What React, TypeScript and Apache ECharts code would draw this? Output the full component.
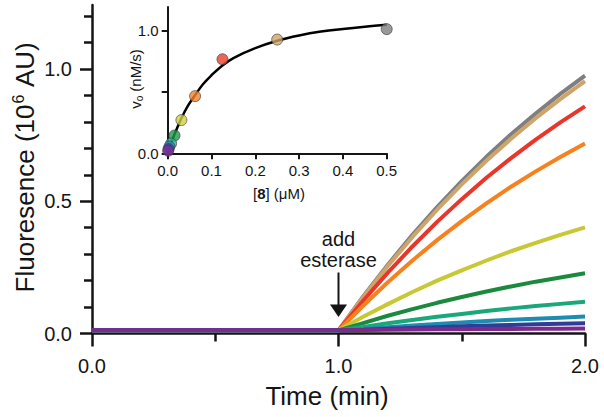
import React, { useEffect, useRef } from "react";
import * as echarts from "echarts";

// Main panel: fluorescence traces (10^6 AU) vs time (min)
const timePoints = [0, 1.0, 1.1, 1.2, 1.3, 1.4, 1.5, 1.6, 1.7, 1.8, 1.9, 2.0];
const grayTrace = [0.012, 0.012, 0.14, 0.26, 0.373, 0.478, 0.576, 0.668, 0.753, 0.832, 0.906, 0.975];
const tanTrace = [0.012, 0.012, 0.137, 0.255, 0.365, 0.468, 0.564, 0.653, 0.736, 0.814, 0.886, 0.954];
const redTrace = [0.012, 0.012, 0.124, 0.23, 0.329, 0.422, 0.508, 0.589, 0.663, 0.733, 0.798, 0.859];
const orangeTrace = [0.012, 0.012, 0.105, 0.194, 0.276, 0.353, 0.425, 0.492, 0.555, 0.613, 0.667, 0.718];
const yellowTrace = [0.012, 0.012, 0.063, 0.111, 0.157, 0.2, 0.239, 0.276, 0.311, 0.343, 0.373, 0.401];
const greenTrace = [0.012, 0.012, 0.039, 0.067, 0.092, 0.116, 0.138, 0.159, 0.178, 0.196, 0.212, 0.228];
const tealTrace = [0.012, 0.012, 0.025, 0.039, 0.051, 0.063, 0.074, 0.085, 0.095, 0.104, 0.112, 0.12];
const blueTrace = [0.012, 0.012, 0.017, 0.024, 0.03, 0.036, 0.042, 0.047, 0.052, 0.056, 0.06, 0.064];
const indigoTrace = [0.012, 0.012, 0.014, 0.018, 0.021, 0.024, 0.027, 0.03, 0.032, 0.035, 0.037, 0.039];
const purpleTrace = [0.012, 0.012, 0.013, 0.014, 0.015, 0.016, 0.016, 0.017, 0.017, 0.018, 0.018, 0.019];

const traceColors = ["#7f7f7f", "#cda56a", "#e8362b", "#f5821f", "#c8c836", "#1b8a3e", "#1aa87a", "#1e8cb0", "#2f3d96", "#7e2a8c"];
const traces = [grayTrace, tanTrace, redTrace, orangeTrace, yellowTrace, greenTrace, tealTrace, blueTrace, indigoTrace, purpleTrace];

const mainXMajor = [0, 1, 2];
const mainXMinor = [0.5, 1.5];
const mainYMajor = [0, 0.5, 1.0];
const mainYMinor = [0.1, 0.2, 0.3, 0.4, 0.6, 0.7, 0.8, 0.9, 1.1, 1.2];

// Inset: initial rate vs [8]
const concentrations = [0.5, 0.25, 0.125, 0.0625, 0.0313, 0.0156, 0.0078, 0.0039, 0.002, 0.001];
const rates = [1.01, 0.925, 0.765, 0.465, 0.27, 0.145, 0.08, 0.055, 0.035, 0.02];
const pointColors = ["#808080", "#d0a468", "#e8402a", "#f5822a", "#cfd042", "#1e9a4a", "#22b090", "#2a8ab8", "#3b3fa0", "#7c2e96"];
const fitS = [0, 0.004, 0.008, 0.015, 0.03, 0.045, 0.063, 0.08, 0.1, 0.125, 0.15, 0.2, 0.25, 0.3, 0.35, 0.4, 0.45, 0.5];
const fitV = [0, 0.04, 0.085, 0.15, 0.275, 0.38, 0.475, 0.56, 0.635, 0.715, 0.775, 0.855, 0.915, 0.958, 0.99, 1.012, 1.03, 1.045];
const insetXTicks = [0, 0.1, 0.2, 0.3, 0.4, 0.5];
const insetYTicks = [0, 0.5, 1.0];
const insetYLabels = [0, 1.0];

const FONT = "Liberation Sans, Arial, Helvetica, sans-serif";
const INK = "#151515";

export default function App() {
  const ref = useRef<HTMLDivElement>(null);
  useEffect(() => {
    if (!ref.current) return;
    const chart = echarts.init(ref.current, undefined, { renderer: "svg" });
    const axisLine = { show: true, lineStyle: { color: INK, width: 2.5 } };
    const insetAxisLine = { show: true, lineStyle: { color: INK, width: 2 } };
    const fmt1 = (v: number) => v.toFixed(1);

    const option: any = {
      animation: false,
      textStyle: { fontFamily: FONT },
      grid: [
        { left: 92, right: 19, top: 5, bottom: 83.5 },
        { left: 167.7, width: 219, top: 7, height: 146.3 },
      ],
      xAxis: [
        {
          gridIndex: 0, type: "value", min: 0, max: 2, position: "bottom",
          axisLine,
          axisTick: { show: true, customValues: mainXMajor, length: 13, lineStyle: { color: INK, width: 2.5 } },
          axisLabel: { show: true, customValues: mainXMajor, formatter: fmt1, fontSize: 20, color: INK, margin: 22, fontFamily: FONT },
          splitLine: { show: false },
        },
        {
          gridIndex: 0, type: "value", min: 0, max: 2, position: "bottom",
          axisLine: { show: false },
          axisTick: { show: true, customValues: mainXMinor, length: 8, lineStyle: { color: INK, width: 2.5 } },
          axisLabel: { show: false },
          splitLine: { show: false },
        },
        {
          gridIndex: 1, type: "value", min: 0, max: 0.5, position: "bottom",
          axisLine: insetAxisLine,
          axisTick: { show: true, customValues: insetXTicks, length: 6, lineStyle: { color: INK, width: 2 } },
          axisLabel: { show: true, customValues: insetXTicks, formatter: fmt1, fontSize: 15, color: INK, margin: 10, fontFamily: FONT },
          splitLine: { show: false },
        },
      ],
      yAxis: [
        {
          gridIndex: 0, type: "value", min: 0, max: 1.242, position: "left",
          axisLine,
          axisTick: { show: true, customValues: mainYMajor, length: 12, lineStyle: { color: INK, width: 2.5 } },
          axisLabel: { show: true, customValues: mainYMajor, formatter: fmt1, fontSize: 20, color: INK, margin: 20, fontFamily: FONT },
          splitLine: { show: false },
        },
        {
          gridIndex: 0, type: "value", min: 0, max: 1.242, position: "left",
          axisLine: { show: false },
          axisTick: { show: true, customValues: mainYMinor, length: 8, lineStyle: { color: INK, width: 2.5 } },
          axisLabel: { show: false },
          splitLine: { show: false },
        },
        {
          gridIndex: 1, type: "value", min: 0, max: 1.19, position: "left",
          axisLine: insetAxisLine,
          axisTick: { show: true, customValues: insetYTicks, length: 6, lineStyle: { color: INK, width: 2 } },
          axisLabel: { show: true, customValues: insetYLabels, formatter: fmt1, fontSize: 15, color: INK, margin: 9, fontFamily: FONT },
          splitLine: { show: false },
        },
      ],
      series: [
        ...traces.map((trace, i) => ({
          type: "line",
          xAxisIndex: 0,
          yAxisIndex: 0,
          data: timePoints.map((t, j) => [t, trace[j]]),
          showSymbol: false,
          symbol: "none",
          lineStyle: { color: traceColors[i], width: 4 },
          z: 2 + i * 0.01,
        })),
        {
          type: "line",
          xAxisIndex: 2,
          yAxisIndex: 2,
          data: fitS.map((s, j) => [s, fitV[j]]),
          showSymbol: false,
          symbol: "none",
          smooth: 0.4,
          lineStyle: { color: "#000", width: 2.5 },
          z: 5,
        },
        {
          type: "scatter",
          xAxisIndex: 2,
          yAxisIndex: 2,
          symbolSize: 11,
          data: concentrations.map((c, j) => ({
            value: [c, rates[j]],
            itemStyle: { color: pointColors[j], borderColor: "#3a3a3a", borderWidth: 0.8 },
          })),
          z: 6,
        },
      ],
    };
    chart.setOption(option);

    const arrowBase = chart.convertToPixel({ gridIndex: 0 }, [1.0, 0]) as number[];
    const ax = arrowBase[0];
    const ay = arrowBase[1];

    chart.setOption({
      graphic: [
        {
          type: "text",
          x: 25,
          y: 167,
          rotation: Math.PI / 2,
          style: {
            text: "{n|Fluoresence (10}{s|6}{n| AU)}",
            align: "center",
            verticalAlign: "middle",
            fill: INK,
            rich: {
              n: { fontSize: 26, fontFamily: FONT, fill: INK },
              s: { fontSize: 16, fontFamily: FONT, fill: INK, padding: [0, 1, 14, 1] },
            },
          },
        },
        {
          type: "text",
          x: 327,
          y: 396,
          style: { text: "Time (min)", fontSize: 26, fontFamily: FONT, fill: INK, align: "center", verticalAlign: "middle" },
        },
        {
          type: "text",
          x: 279,
          y: 193,
          style: {
            text: "{n|[}{b|8}{n|] (μM)}",
            align: "center",
            verticalAlign: "middle",
            fill: INK,
            rich: {
              n: { fontSize: 15, fontFamily: FONT, fill: INK },
              b: { fontSize: 15, fontFamily: FONT, fontWeight: "bold", fill: INK },
            },
          },
        },
        {
          type: "text",
          x: 135,
          y: 79,
          rotation: Math.PI / 2,
          style: {
            text: "{n|v}{s|o}{n| (nM/s)}",
            align: "center",
            verticalAlign: "middle",
            fill: INK,
            rich: {
              n: { fontSize: 15, fontFamily: FONT, fill: INK },
              s: { fontSize: 10, fontFamily: FONT, fill: INK, padding: [8, 0, 0, 0] },
            },
          },
        },
        {
          type: "text",
          x: ax,
          y: ay - 95,
          style: { text: "add", fontSize: 20, fontFamily: FONT, fill: INK, align: "center", verticalAlign: "middle" },
        },
        {
          type: "text",
          x: ax,
          y: ay - 74,
          style: { text: "esterase", fontSize: 20, fontFamily: FONT, fill: INK, align: "center", verticalAlign: "middle" },
        },
        {
          type: "line",
          shape: { x1: ax, y1: ay - 61, x2: ax, y2: ay - 27 },
          style: { stroke: INK, lineWidth: 2 },
        },
        {
          type: "polygon",
          shape: { points: [[ax - 8.5, ay - 29], [ax + 8.5, ay - 29], [ax, ay - 16.5]] },
          style: { fill: INK },
        },
      ],
    });

    return () => chart.dispose();
  }, []);

  return <div ref={ref} style={{ width: 604, height: 417, position: "absolute", left: 0, top: 0 }} />;
}
